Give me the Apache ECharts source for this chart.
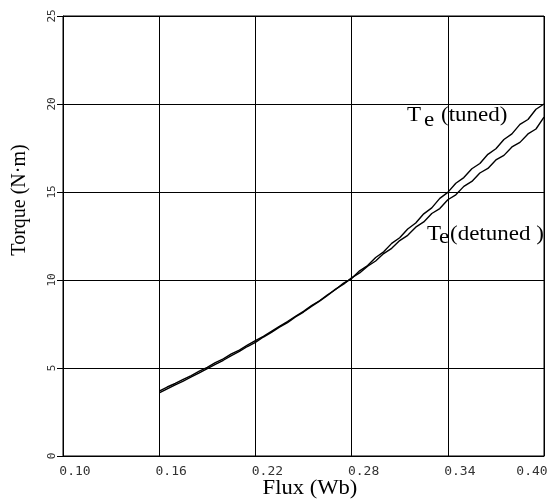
<!DOCTYPE html>
<html>
<head>
<meta charset="utf-8">
<script src="https://cdn.jsdelivr.net/npm/echarts@6/dist/echarts.min.js"></script>
<style>
  html, body { margin: 0; padding: 0; background: #fff; }
  #torque { width: 551px; height: 499px; }
</style>
</head>
<body>
<div id="torque"></div>
<script>
// flux (Wb) sample points
var fluxVals = [0.160, 0.165, 0.170, 0.175, 0.180, 0.185, 0.190, 0.195, 0.200, 0.205,
                0.210, 0.215, 0.220, 0.225, 0.230, 0.235, 0.240, 0.245, 0.250, 0.255,
                0.260, 0.265, 0.270, 0.275, 0.280, 0.285, 0.290, 0.295, 0.300, 0.305,
                0.310, 0.315, 0.320, 0.325, 0.330, 0.335, 0.340, 0.345, 0.350, 0.355,
                0.360, 0.365, 0.370, 0.375, 0.380, 0.385, 0.390, 0.395, 0.400];
// Te (tuned)
var tunedVals = [3.68, 3.92, 4.12, 4.36, 4.57, 4.82, 5.04, 5.30, 5.52, 5.80,
                 6.02, 6.30, 6.55, 6.80, 7.08, 7.36, 7.64, 7.94, 8.22, 8.54,
                 8.82, 9.16, 9.46, 9.82, 10.08, 10.52, 10.82, 11.28, 11.60, 12.08,
                 12.40, 12.90, 13.24, 13.76, 14.10, 14.64, 14.98, 15.50, 15.82, 16.32,
                 16.62, 17.14, 17.46, 17.98, 18.30, 18.84, 19.12, 19.70, 20.00];
// Te (detuned)
var detunedVals = [3.58, 3.82, 4.04, 4.26, 4.49, 4.72, 4.96, 5.20, 5.44, 5.70,
                   5.94, 6.22, 6.46, 6.76, 7.02, 7.32, 7.58, 7.90, 8.18, 8.50,
                   8.80, 9.12, 9.48, 9.76, 10.12, 10.40, 10.78, 11.08, 11.50, 11.80,
                   12.24, 12.54, 13.00, 13.30, 13.78, 14.06, 14.56, 14.84, 15.32, 15.60,
                   16.08, 16.34, 16.82, 17.08, 17.56, 17.82, 18.30, 18.58, 19.25];

var xTicks = [0.10, 0.16, 0.22, 0.28, 0.34, 0.40];
var yTicks = [0, 5, 10, 15, 20, 25];

function pairs(xs, ys) {
    var out = [];
    for (var i = 0; i < xs.length; i++) out.push([xs[i], ys[i]]);
    return out;
}

var serif = '"Liberation Serif", "DejaVu Serif", serif';
var mono = '"DejaVu Sans Mono", "Liberation Mono", monospace';

// text drawn a bit wider, like the old bitmap Times of the original
function label(txt, x, y, size) {
    return {
        type: 'text', x: x, y: y, scaleX: 1.15,
        style: { text: txt, font: size + 'px ' + serif, fill: '#000', align: 'left', verticalAlign: 'middle' }
    };
}

var torqueoption = {
    animation: false,
    grid: {
        left: 63,
        right: 7,
        top: 16,
        bottom: 43,
        show: true,
        borderColor: '#000',
        borderWidth: 1
    },
    xAxis: {
        type: 'value',
        min: xTicks[0],
        max: xTicks[xTicks.length - 1],
        interval: 0.06,
        axisLine: { lineStyle: { color: '#000', width: 1 } },
        axisTick: { show: false },
        splitLine: { show: true, lineStyle: { color: '#000', width: 1 } },
        axisLabel: {
            margin: 9,
            color: '#333',
            fontFamily: mono,
            fontSize: 13,
            formatter: function (v) {
                var s = v.toFixed(2);
                return v > 0.39 ? '{r|' + s + '}' : '{n|' + s + '}';
            },
            rich: {
                n: { fontFamily: mono, fontSize: 13, color: '#333', padding: [0, 0, 0, 24] },
                r: { fontFamily: mono, fontSize: 13, color: '#333', padding: [0, 24, 0, 0] }
            }
        }
    },
    yAxis: {
        type: 'value',
        min: yTicks[0],
        max: yTicks[yTicks.length - 1],
        interval: 5,
        axisLine: { lineStyle: { color: '#000', width: 1 } },
        axisTick: { show: true, length: 6, lineStyle: { color: '#000' } },
        splitLine: { show: true, lineStyle: { color: '#000', width: 1 } },
        axisLabel: {
            rotate: 90,
            margin: 5,
            color: '#333',
            fontFamily: mono,
            fontSize: 11
        }
    },
    series: [
        {
            name: 'Te (tuned)',
            type: 'line',
            data: pairs(fluxVals, tunedVals),
            showSymbol: false,
            lineStyle: { color: '#000', width: 1.4 }
        },
        {
            name: 'Te (detuned)',
            type: 'line',
            data: pairs(fluxVals, detunedVals),
            showSymbol: false,
            lineStyle: { color: '#000', width: 1.4 }
        }
    ],
    graphic: [
        // axis titles
        { type: 'text', x: 310, y: 489, scaleX: 1.13,
          style: { text: 'Flux (Wb)', font: '20px ' + serif, fill: '#000', align: 'center', verticalAlign: 'middle' } },
        { type: 'text', x: 20, y: 200, rotation: Math.PI / 2,
          style: { text: 'Torque (N\u00b7m)', font: '20px ' + serif, fill: '#000', align: 'center', verticalAlign: 'middle' } },
        // curve labels
        label('T', 407, 116, 20),
        label('e', 424, 121, 20),
        label('(tuned)', 441, 116, 20),
        label('T', 427, 234.5, 20),
        label('e', 439, 238, 20),
        label('(detuned )', 450, 234.5, 20)
    ]
};

var torquedom = document.getElementById('torque');
var torqueChart = echarts.init(torquedom, null, { renderer: 'canvas' });
torqueoption && torqueChart.setOption(torqueoption);
</script>
</body>
</html>
